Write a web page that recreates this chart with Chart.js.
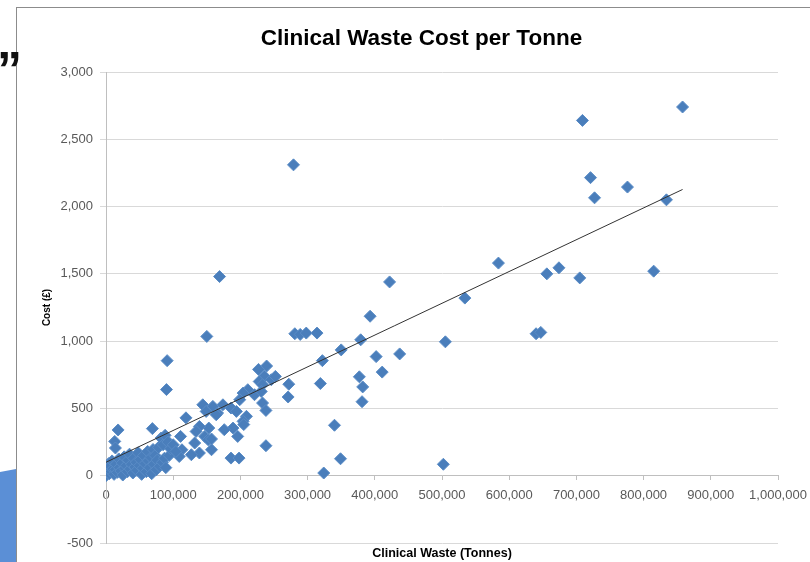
<!DOCTYPE html>
<html><head><meta charset="utf-8">
<script src="https://cdn.jsdelivr.net/npm/chart.js@4.4.1/dist/chart.umd.min.js"></script>
<style>
html,body{margin:0;padding:0;background:#fff;overflow:hidden;width:810px;height:562px;}
#wrap{position:absolute;left:0;top:0;width:840px;height:562px;}
#frame{position:absolute;left:16px;top:7px;width:900px;height:700px;border-left:1px solid #8c8c8c;border-top:1px solid #8c8c8c;}
#blue{position:absolute;left:0;top:466px;width:16px;height:96px;background:#5b8fd6;clip-path:polygon(0 6px,100% 3px,100% 100%,0 100%);}
#quote{position:absolute;left:-3px;top:45px;font:bold 50px "Liberation Sans",Arial,sans-serif;line-height:50px;color:#111;}
</style></head><body>
<div id="frame"></div><div id="blue"></div><div id="quote">”</div>
<div id="wrap"><canvas id="c"></canvas></div>
<script>
const chartTitle = 'Clinical Waste Cost per Tonne';
const xTitle = 'Clinical Waste (Tonnes)';
const yTitle = 'Cost (£)';
const xTickValues = [0,100000,200000,300000,400000,500000,600000,700000,800000,900000,1000000];
const yTickValues = [-500,0,500,1000,1500,2000,2500,3000];

const wasteTonnes = [
 858000,709000,721000,727000,776000,834000,279000,169000,584000,534000,
 656000,674000,705000,815000,422000,640000,647000,505000,502000,150000,
 91000,90000,69000,393000,281000,289000,298000,314000,379000,350000,
 322000,402000,437000,411000,377000,382000,381000,340000,349000,324000,
 272000,271000,319000,239000,227000,144000,159000,174000,186000,194000,
 149000,166000,209000,204000,189000,176000,196000,153000,147000,152000,
 157000,139000,238000,186000,198000,236000,228000,246000,252000,233000,
 211000,204000,221000,231000,199000,233000,238000,164000,119000,18000,
 13000,14000,111000,132000,139000,113000,127000,91000,109000,134000,
 205000,157000,
 0,1000,2000,4000,5000,6000,8000,9000,10000,12000,
 14000,15000,17000,19000,20000,22000,24000,25000,27000,28000,
 30000,32000,33000,35000,36000,38000,40000,41000,43000,45000,
 46000,48000,50000,51000,53000,55000,56000,58000,60000,62000,
 63000,65000,67000,68000,70000,71000,73000,75000,76000,78000,
 80000,82000,84000,85000,87000,88000,89000,92000,94000,96000,
 100000,104000
];
const costGBP = [
 2740,2640,2215,2065,2145,2050,2310,1480,1580,1320,
 1500,1545,1470,1520,1440,1055,1065,995,85,1035,
 855,640,350,1185,1055,1050,1060,1060,1010,935,
 855,885,905,770,735,660,550,375,126,20,
 680,585,685,815,790,527,515,527,503,478,
 478,466,441,404,354,342,292,354,292,267,
 193,169,223,131,131,738,700,713,738,676,
 639,614,602,626,565,540,485,453,430,340,
 255,206,292,243,366,193,156,260,143,329,
 380,273,
 0,60,25,90,15,70,30,110,50,10,
 45,85,25,125,60,35,95,5,140,55,
 75,30,115,160,50,85,20,130,65,100,
 40,170,75,120,10,55,150,90,30,180,
 110,60,135,15,195,85,150,45,115,210,
 70,280,100,230,130,300,60,250,150,200,
 230,180
];
const trendX = [0, 858000];
const trendY = [100, 2127];

const FONT = "'Liberation Sans', Arial, sans-serif";
const points = wasteTonnes.map((x, i) => ({x: x, y: costGBP[i]}));
const trend = trendX.map((x, i) => ({x: x, y: trendY[i]}));
const fmt = v => Number(v).toLocaleString('en-US');

new Chart(document.getElementById('c'), {
  type: 'scatter',
  data: {
    datasets: [
      {type: 'line', data: trend, borderColor: '#333333', borderWidth: 1, pointRadius: 0, fill: false, xAxisID: 'x', yAxisID: 'y'},
      {data: points, pointStyle: 'rectRot', pointRadius: 6, pointHoverRadius: 6,
       backgroundColor: '#4a7ebb', borderColor: '#5a8cc6', borderWidth: 1, xAxisID: 'x', yAxisID: 'y'}
    ]
  },
  options: {
    responsive: true, maintainAspectRatio: false, animation: false,
    layout: {padding: {left: 37, right: 34, top: 10, bottom: 1}},
    plugins: {
      legend: {display: false}, tooltip: {enabled: false},
      title: {display: true, text: chartTitle, color: '#000',
        font: {family: FONT, size: 22.5, weight: 'bold', lineHeight: 1.2},
        padding: {top: 15, bottom: 20}}
    },
    scales: {
      x: {
        type: 'linear', position: {y: 0}, min: 0, max: 1000000,
        afterBuildTicks: s => { s.ticks = xTickValues.map(v => ({value: v})); },
        ticks: {color: '#595959', font: {family: FONT, size: 13}, padding: 8, maxRotation: 0, autoSkip: false, callback: fmt},
        grid: {display: true, drawOnChartArea: false, drawTicks: true, tickLength: 4, color: '#bfbfbf'},
        border: {display: true, color: '#bfbfbf'},
        afterFit: s => { s.height = 0; s.paddingLeft = 0; s.paddingRight = 62; }
      },
      x2: {
        type: 'linear', position: 'bottom', min: 0, max: 1,
        ticks: {display: false}, grid: {display: false, drawTicks: false}, border: {display: false},
        title: {display: true, text: xTitle, color: '#000', font: {family: FONT, size: 12.5, weight: 'bold', lineHeight: 1.2}, padding: {top: 3, bottom: 0}}
      },
      y: {
        type: 'linear', position: 'left', min: -500, max: 3000,
        afterBuildTicks: s => { s.ticks = yTickValues.map(v => ({value: v})); },
        ticks: {color: '#595959', font: {family: FONT, size: 13}, padding: 7, callback: fmt},
        grid: {color: '#d9d9d9', tickLength: 6},
        border: {color: '#bfbfbf'},
        title: {display: true, text: yTitle, color: '#000', font: {family: FONT, size: 10, weight: 'bold', lineHeight: 1.2}, padding: {top: 4, bottom: 4}},
        afterFit: s => { s.width = 69; }
      }
    }
  }
});
</script>
</body></html>
